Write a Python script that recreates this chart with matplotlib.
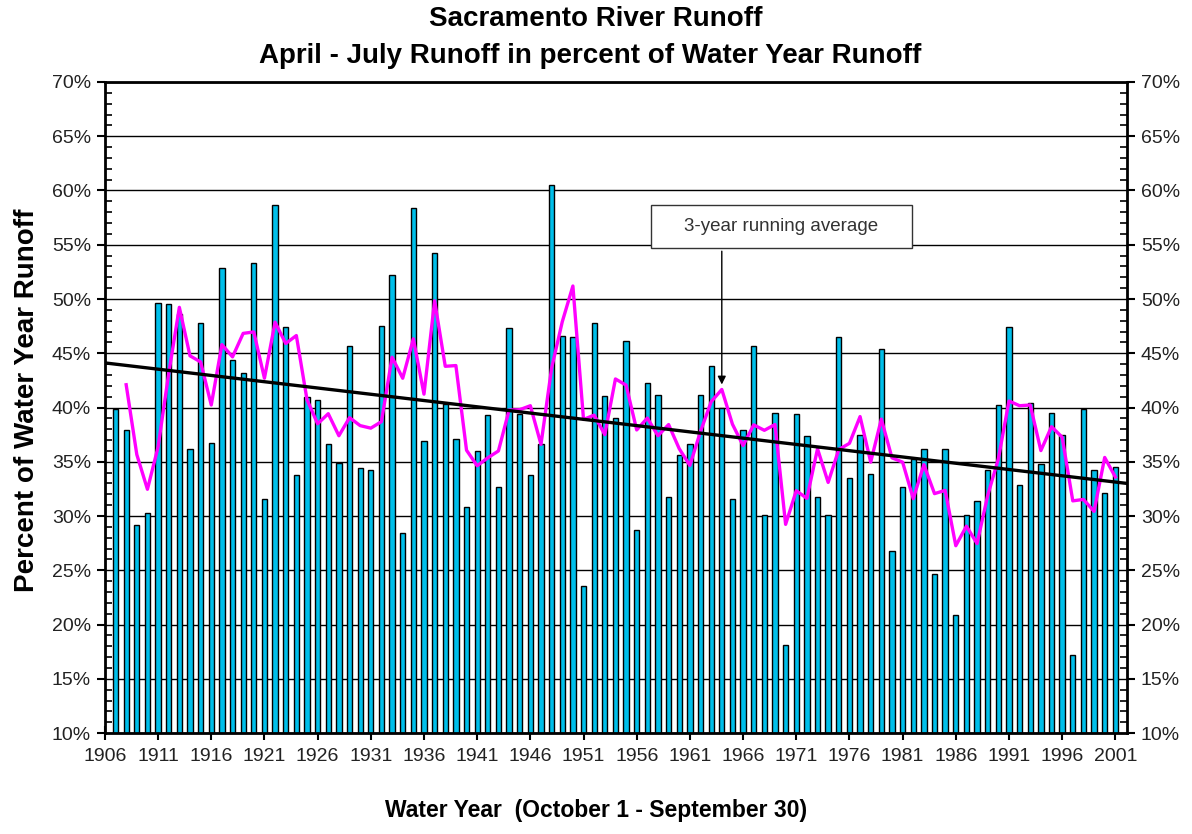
import matplotlib
matplotlib.use("Agg")
import matplotlib.pyplot as plt
from matplotlib.patches import Rectangle
from matplotlib.ticker import MultipleLocator, FuncFormatter
import numpy as np
import pandas as pd

# Datos: porcentaje abril-julio del escurrimiento del año hidrológico
# (el valor de 1906 no se dibuja como barra, solo entra en el promedio móvil)
years = list(range(1906, 2002))
runoff_pct = [
    48.5, 39.9, 37.9, 29.2, 30.3, 49.6, 49.5, 48.6, 36.2, 47.8,   # 1906-1915
    36.7, 52.9, 44.4, 43.2, 53.3, 31.6, 58.7, 47.4, 33.8, 41.0,   # 1916-1925
    40.7, 36.6, 34.9, 45.7, 34.4, 34.2, 47.5, 52.2, 28.4, 58.4,   # 1926-1935
    36.9, 54.2, 40.3, 37.1, 30.8, 36.0, 39.3, 32.7, 47.3, 39.4,   # 1936-1945
    33.8, 36.6, 60.5, 46.6, 46.5, 23.6, 47.8, 41.1, 39.0, 46.1,   # 1946-1955
    28.7, 42.3, 41.2, 31.8, 35.6, 36.6, 41.2, 43.8, 40.0, 31.6,   # 1956-1965
    37.9, 45.7, 30.1, 39.5, 18.1, 39.4, 37.4, 31.8, 30.1, 46.5,   # 1966-1975
    33.5, 37.5, 33.9, 45.4, 26.8, 32.7, 35.3, 36.2, 24.7, 36.2,   # 1976-1985
    20.9, 30.1, 31.4, 34.2, 40.2, 47.4, 32.9, 40.4, 34.8, 39.5,   # 1986-1995
    37.5, 17.2, 39.9, 34.2, 32.1, 34.5,                           # 1996-2001
]
tick_years = list(range(1906, 2002, 5))

plt.rcParams['font.family'] = ['Liberation Sans', 'DejaVu Sans']

serie = pd.Series(runoff_pct, index=years)
media3 = serie.rolling(3).mean()          # promedio móvil de 3 años
coef = np.polyfit(years, runoff_pct, 1)   # tendencia lineal

fig = plt.figure(figsize=(11.92, 8.34), dpi=100)
ax = fig.add_axes([0.088, 0.121, 0.8575, 0.7807])

ax.bar(years[1:], runoff_pct[1:], width=0.5, color='#00BFEA',
       edgecolor='black', linewidth=1, zorder=2)
ax.plot(media3.index, media3.values, color='#FF00FF', lw=2.4, zorder=3)
x_trend = np.array([1906, 2002.1])
ax.plot(x_trend, np.polyval(coef, x_trend), color='black', lw=2.4, zorder=4)

ax.set_xlim(1906, 2002.1)
ax.set_ylim(10, 70)
ax.set_xticks(tick_years)
ax.set_xticklabels([str(y) for y in tick_years])
ax.yaxis.set_major_locator(MultipleLocator(5))
ax.yaxis.set_minor_locator(MultipleLocator(1))
ax.yaxis.set_major_formatter(FuncFormatter(lambda v, p: f"{v:.0f}%"))
ax.yaxis.grid(True, which='major', color='black', lw=1)
ax.set_axisbelow(True)

ax.tick_params(axis='y', which='major', direction='out', length=6, width=1.5,
               right=True, labelright=True, labelsize=14, colors='black',
               labelcolor='#222222', pad=4)
ax.tick_params(axis='y', which='minor', direction='in', length=5, width=1.2, right=True)
ax.tick_params(axis='x', which='major', direction='inout', length=10, width=1.5,
               labelsize=14, labelcolor='#222222', pad=6)
for lado in ax.spines.values():
    lado.set_linewidth(2)

# Cuadro de anotación
ax.add_patch(Rectangle((1957.3, 54.66), 24.6, 4.0, facecolor='white',
                       edgecolor='#333333', lw=1, zorder=5))
ax.text(1969.6, 56.66, '3-year running average', ha='center', va='center',
        fontsize=13.5, color='#333333', zorder=6)
ax.annotate('', xy=(1964, media3[1964] + 0.2), xytext=(1964, 54.66),
            arrowprops=dict(arrowstyle='-|>', color='black', lw=1,
                            mutation_scale=12), zorder=6)

fig.text(0.5, 1 - 19 / 834, 'Sacramento River Runoff', ha='center', va='center',
         fontsize=20, fontweight='bold')
fig.text(0.495, 1 - 56 / 834, 'April - July Runoff in percent of Water Year Runoff',
         ha='center', va='center', fontsize=20, fontweight='bold')
fig.text(27 / 1192, 1 - 400 / 834, 'Percent of Water Year Runoff', rotation=90,
         ha='center', va='center', fontsize=20, fontweight='bold')
fig.text(0.5, 1 - 810 / 834, 'Water Year  (October 1 - September 30)',
         ha='center', va='center', fontsize=16.5, fontweight='bold')

fig.savefig('out.png', dpi=100)
